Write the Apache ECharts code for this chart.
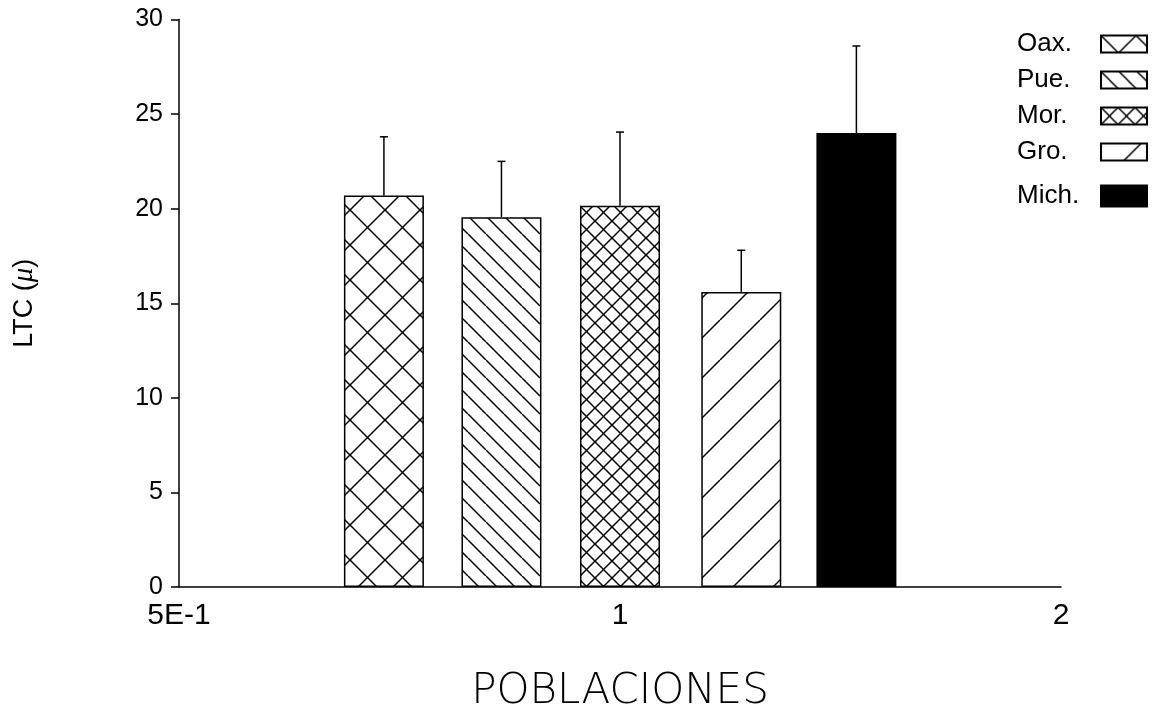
<!DOCTYPE html>
<html>
<head>
<meta charset="utf-8">
<script src="https://cdn.jsdelivr.net/npm/echarts@6/dist/echarts.min.js"></script>
<style>
  html, body { margin: 0; padding: 0; background: #fff; }
  #main { width: 1158px; height: 716px; }
</style>
</head>
<body>
<div id="main"></div>
<script>
// LTC por poblacion
const populations = ['Oax.', 'Pue.', 'Mor.', 'Gro.', 'Mich.'];
const xPos = [0.69, 0.83, 1.0, 1.21, 1.45];
const means = [20.7, 19.55, 20.15, 15.6, 24.0];
const sds = [3.1, 2.95, 3.9, 2.2, 4.6];
const xTickValues = [0.5, 1, 2];
const xTickLabels = ['5E-1', '1', '2'];

// hatch pattern on a small canvas, dirs: '/' and/or '\\'
function hatch(p, dirs) {
    const c = document.createElement('canvas');
    c.width = p;
    c.height = p;
    const ctx = c.getContext('2d');
    ctx.fillStyle = '#fff';
    ctx.fillRect(0, 0, p, p);
    ctx.strokeStyle = '#000';
    ctx.lineWidth = 1.5;
    dirs.forEach(function (d) {
        for (let k = -1; k <= 1; k++) {
            ctx.beginPath();
            if (d === '/') {
                ctx.moveTo(k * p, p);
                ctx.lineTo(k * p + p, 0);
            } else {
                ctx.moveTo(k * p, 0);
                ctx.lineTo(k * p + p, p);
            }
            ctx.stroke();
        }
    });
    return { image: c, repeat: 'repeat' };
}

const fills = [
    hatch(35, ['/', '\\']),
    hatch(18, ['\\']),
    hatch(17, ['/', '\\']),
    hatch(40, ['/']),
    '#000'
];

const chart = echarts.init(document.getElementById('main'));

const barSeries = populations.map(function (name, i) {
    return {
        type: 'bar',
        name: name,
        data: [[xPos[i], means[i]]],
        barWidth: 80,
        barGap: '-100%',
        itemStyle: { color: fills[i], borderColor: '#000', borderWidth: 1.5 },
        z: 2
    };
});

const errSeries = {
    type: 'custom',
    name: 'err',
    data: xPos.map(function (x, i) { return [x, means[i], means[i] + sds[i]]; }),
    renderItem: function (params, api) {
        const p0 = api.coord([api.value(0), api.value(1)]);
        const p1 = api.coord([api.value(0), api.value(2)]);
        const st = { stroke: '#000', lineWidth: 1.5 };
        return {
            type: 'group',
            children: [
                { type: 'line', shape: { x1: p0[0], y1: p0[1], x2: p1[0], y2: p1[1] }, style: st },
                { type: 'line', shape: { x1: p1[0] - 4, y1: p1[1], x2: p1[0] + 4, y2: p1[1] }, style: st }
            ]
        };
    },
    z: 3
};

const legendText = {
    fontFamily: 'Liberation Sans',
    fontSize: 26,
    color: '#000',
    rich: { a: { width: 79, align: 'left', fontSize: 26, fontFamily: 'Liberation Sans', color: '#000' } }
};

const option = {
    backgroundColor: '#fff',
    animation: false,
    grid: { left: 179, right: 97, top: 19.5, bottom: 129, containLabel: false, outerBoundsMode: 'none' },
    legend: [
        {
            data: populations.slice(0, 4),
            orient: 'vertical',
            right: 10,
            top: 31,
            padding: 0,
            align: 'right',
            icon: 'rect',
            itemWidth: 46,
            itemHeight: 17,
            itemGap: 10,
            formatter: '{a|{name}}',
            textStyle: legendText,
            selectedMode: false
        },
        {
            data: ['Mich.'],
            orient: 'vertical',
            right: 10,
            top: 183,
            padding: 0,
            align: 'right',
            icon: 'rect',
            itemWidth: 46,
            itemHeight: 21,
            formatter: '{a|{name}}',
            textStyle: legendText,
            selectedMode: false
        }
    ],
    xAxis: {
        type: 'log',
        logBase: 2,
        min: 0.5,
        max: 2,
        name: 'POBLACIONES',
        nameLocation: 'middle',
        nameGap: 84,
        nameTextStyle: { fontFamily: 'DejaVu Sans', fontWeight: 200, fontSize: 42, color: '#000' },
        axisLine: { lineStyle: { color: '#000', width: 1.5 } },
        axisTick: { show: false },
        splitLine: { show: false },
        axisLabel: {
            margin: 14,
            fontFamily: 'Liberation Sans',
            fontSize: 30,
            color: '#000',
            formatter: function (v) {
                let best = 0;
                xTickValues.forEach(function (t, i) {
                    if (Math.abs(t - v) < Math.abs(xTickValues[best] - v)) best = i;
                });
                return xTickLabels[best];
            }
        }
    },
    yAxis: {
        type: 'value',
        min: 0,
        max: 30,
        interval: 5,
        name: 'LTC ({i|μ})',
        nameLocation: 'middle',
        nameGap: 140,
        nameRotate: 90,
        nameTextStyle: {
            fontFamily: 'Liberation Sans',
            fontSize: 27,
            color: '#000',
            rich: { i: { fontStyle: 'italic', fontFamily: 'Liberation Serif', fontSize: 29, color: '#000' } }
        },
        axisLine: { show: true, lineStyle: { color: '#000', width: 1.5 } },
        axisTick: { show: true, length: 8, lineStyle: { color: '#000', width: 1.5 } },
        splitLine: { show: false },
        axisLabel: { margin: 16, fontFamily: 'Liberation Sans', fontSize: 25, color: '#000' }
    },
    series: barSeries.concat([errSeries])
};

chart.setOption(option);
</script>
</body>
</html>
